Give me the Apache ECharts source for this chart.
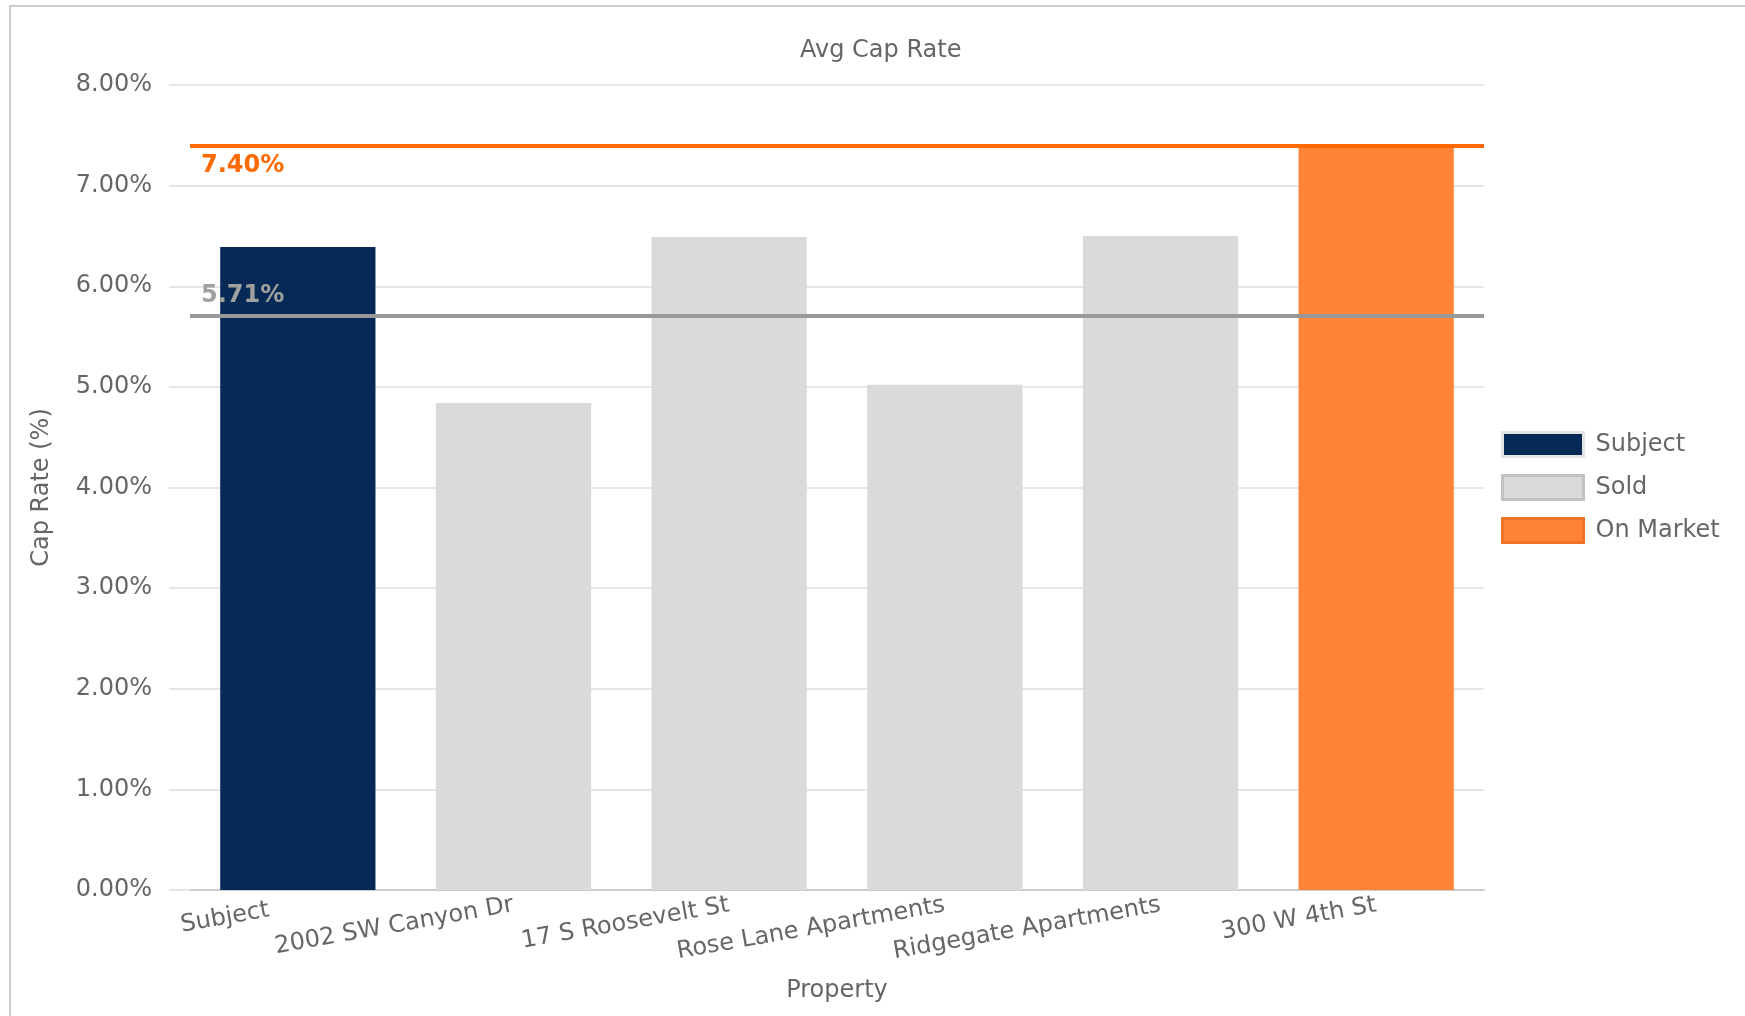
<!DOCTYPE html>
<html>
<head>
<meta charset="utf-8">
<title>Avg Cap Rate</title>
<script src="https://cdn.jsdelivr.net/npm/echarts@6/dist/echarts.min.js"></script>
<style>
  html, body { margin: 0; padding: 0; background: #ffffff; }
  #chart { width: 1745px; height: 1016px; }
</style>
</head>
<body>
<div id="chart"></div>
<script>
// Properties compared, in axis order
const categories = ['Subject', '2002 SW Canyon Dr', '17 S Roosevelt St', 'Rose Lane Apartments', 'Ridgegate Apartments', '300 W 4th St'];
// Cap rate of each property, in percent
const capRates = [6.39, 4.84, 6.49, 5.02, 6.50, 7.40];
// Status group of each property
const groups = ['Subject', 'Sold', 'Sold', 'Sold', 'Sold', 'On Market'];
// Legend order
const groupNames = ['Subject', 'Sold', 'On Market'];
// Average cap rates drawn as reference lines
const soldAverage = 5.71;
const onMarketAverage = 7.40;
// Value axis range and step
const yMin = 0;
const yMax = 8;
const yStep = 1;

const FONT = 'DejaVu Sans';
const groupStyle = {
  'Subject':   { color: '#062a55', border: '#e4e4e4' },
  'Sold':      { color: '#d9dadb', border: '#c2c2c2' },
  'On Market': { color: '#ff8438', border: '#f07428' }
};

const series = groupNames.map(function (g) {
  return {
    name: g,
    type: 'bar',
    stack: 'cap',
    barWidth: '72%',
    itemStyle: { color: groupStyle[g].color },
    emphasis: { disabled: true },
    data: capRates.map(function (v, i) { return groups[i] === g ? v : '-'; })
  };
});

// Reference lines for the sold and on-market averages
series[2].markLine = {
  silent: true,
  symbol: 'none',
  animation: false,
  data: [
    {
      yAxis: onMarketAverage,
      lineStyle: { color: '#ff6a00', width: 4, type: 'solid' },
      label: {
        position: 'insideStartBottom',
        distance: [11, 8],
        formatter: onMarketAverage.toFixed(2) + '%',
        color: '#ff6a00', fontWeight: 'bold', fontSize: 24, fontFamily: FONT
      }
    },
    {
      yAxis: soldAverage,
      lineStyle: { color: '#999999', width: 4, type: 'solid' },
      label: {
        position: 'insideStartTop',
        distance: [11, 8],
        formatter: soldAverage.toFixed(2) + '%',
        color: '#a0a0a0', fontWeight: 'bold', fontSize: 24, fontFamily: FONT
      }
    }
  ]
};

// The first tick label sits a little further left along its slant
const axisCategories = categories.map(function (c, i) {
  return i === 0 ? { value: c, textStyle: { padding: [0, 29, 0, 0] } } : c;
});

const chart = echarts.init(document.getElementById('chart'), null, { renderer: 'canvas' });
chart.setOption({
  animation: false,
  backgroundColor: '#ffffff',
  textStyle: { fontFamily: FONT },
  graphic: [{
    type: 'rect',
    silent: true,
    shape: { x: 10, y: 6, width: 1800, height: 1100 },
    style: { fill: 'none', stroke: '#cccccc', lineWidth: 2 }
  }],
  title: {
    text: 'Avg Cap Rate',
    left: 795,
    top: 34,
    textStyle: { fontFamily: FONT, fontSize: 24, fontWeight: 'normal', color: '#666666' }
  },
  legend: {
    orient: 'vertical',
    left: 1496,
    top: 426,
    icon: 'rect',
    itemWidth: 81,
    itemHeight: 24,
    itemGap: 16,
    selectedMode: false,
    textStyle: { fontFamily: FONT, fontSize: 24, color: '#666666', padding: [0, 0, 0, 7] },
    data: groupNames.map(function (g) {
      return { name: g, itemStyle: { color: groupStyle[g].color, borderColor: groupStyle[g].border, borderWidth: 3 } };
    })
  },
  grid: { left: 190, right: 261, top: 85, bottom: 126, containLabel: false },
  xAxis: {
    type: 'category',
    data: axisCategories,
    name: 'Property',
    nameLocation: 'middle',
    nameGap: 89,
    nameTextStyle: { fontFamily: FONT, fontSize: 24, color: '#666666' },
    axisLine: { lineStyle: { color: '#cccccc', width: 2 } },
    axisTick: { show: false },
    axisLabel: { rotate: 10, margin: 15, interval: 0, fontFamily: FONT, fontSize: 24, color: '#666666' }
  },
  yAxis: {
    type: 'value',
    min: yMin,
    max: yMax,
    interval: yStep,
    name: 'Cap Rate (%)',
    nameLocation: 'middle',
    nameGap: 136,
    nameTextStyle: { fontFamily: FONT, fontSize: 24, color: '#666666' },
    axisLine: { show: false },
    axisTick: { show: true, length: 21, lineStyle: { color: '#e6e6e6', width: 2 } },
    axisLabel: {
      margin: 38, fontFamily: FONT, fontSize: 24, color: '#666666',
      formatter: function (v) { return v.toFixed(2) + '%'; }
    },
    splitLine: { lineStyle: { color: '#e6e6e6', width: 2 } }
  },
  series: series
});
</script>
</body>
</html>
